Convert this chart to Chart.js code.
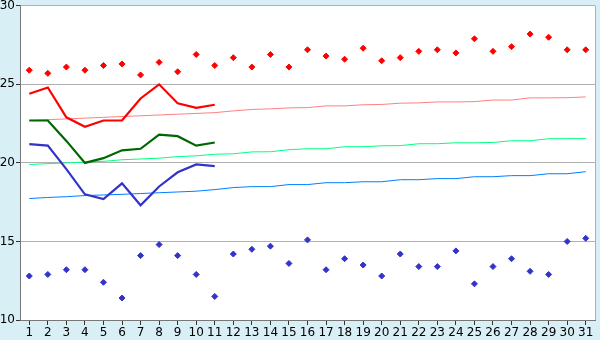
<!DOCTYPE html>
<html>
<head>
<meta charset="utf-8">
<style>
  html, body { margin: 0; padding: 0; background: #d9eff6; }
  #wrap { width: 600px; height: 340px; }
</style>
<script src="https://cdn.jsdelivr.net/npm/chart.js@4.4.1/dist/chart.umd.min.js"></script>
</head>
<body>
<div id="wrap"><canvas id="myChart" width="600" height="340"></canvas></div>
<script>
// days of the month
const days = ['1','2','3','4','5','6','7','8','9','10','11','12','13','14','15','16',
              '17','18','19','20','21','22','23','24','25','26','27','28','29','30','31'];

// daily max / min (points)
const maxPoints = [25.9, 25.7, 26.1, 25.9, 26.2, 26.3, 25.6, 26.4, 25.8, 26.9, 26.2,
                   26.7, 26.1, 26.9, 26.1, 27.2, 26.8, 26.6, 27.3, 26.5, 26.7, 27.1,
                   27.2, 27.0, 27.9, 27.1, 27.4, 28.2, 28.0, 27.2, 27.2];
const minPoints = [12.8, 12.9, 13.2, 13.2, 12.4, 11.4, 14.1, 14.8, 14.1, 12.9, 11.5,
                   14.2, 14.5, 14.7, 13.6, 15.1, 13.2, 13.9, 13.5, 12.8, 14.2, 13.4,
                   13.4, 14.4, 12.3, 13.4, 13.9, 13.1, 12.9, 15.0, 15.2];

// observed lines (first 11 days)
const maxLine  = [24.4, 24.8, 22.9, 22.3, 22.7, 22.7, 24.1, 25.0, 23.8, 23.5, 23.7];
const meanLine = [22.7, 22.7, 21.4, 20.0, 20.3, 20.8, 20.9, 21.8, 21.7, 21.1, 21.3];
const minLine  = [21.2, 21.1, 19.6, 18.0, 17.7, 18.7, 17.3, 18.5, 19.4, 19.9, 19.8];

// normal values
const maxNormal  = [22.7, 22.75, 22.8, 22.85, 22.9, 22.95, 23.0, 23.05, 23.1, 23.15, 23.2,
                    23.31, 23.4, 23.44, 23.5, 23.52, 23.63, 23.63, 23.7, 23.72, 23.8, 23.82,
                    23.88, 23.88, 23.9, 24.0, 24.0, 24.14, 24.14, 24.15, 24.2];
const meanNormal = [19.9, 19.95, 20.0, 20.05, 20.1, 20.2, 20.25, 20.3, 20.4, 20.45, 20.55,
                    20.58, 20.7, 20.71, 20.84, 20.9, 20.9, 21.03, 21.03, 21.09, 21.1, 21.22,
                    21.22, 21.28, 21.28, 21.3, 21.41, 21.41, 21.54, 21.54, 21.55];
const minNormal  = [17.73, 17.8, 17.85, 17.92, 17.96, 18.0, 18.05, 18.1, 18.15, 18.2, 18.3,
                    18.43, 18.49, 18.49, 18.62, 18.62, 18.74, 18.74, 18.8, 18.8, 18.93, 18.93,
                    19.0, 19.0, 19.12, 19.12, 19.19, 19.19, 19.31, 19.31, 19.44];

const yTicks = [10, 15, 20, 25, 30];

// background + frame
const framePlugin = {
    id: 'frame',
    beforeDraw(chart) {
        const c = chart.ctx, a = chart.chartArea;
        c.save();
        c.fillStyle = '#d9eff6';
        c.fillRect(0, 0, chart.width, chart.height);
        c.fillStyle = '#ffffff';
        c.fillRect(a.left, a.top, a.right - a.left, a.bottom - a.top);
        c.restore();
    },
    afterDraw(chart) {
        const c = chart.ctx, a = chart.chartArea;
        c.save();
        c.strokeStyle = '#b0b0b0';
        c.lineWidth = 1;
        c.beginPath();
        c.moveTo(a.right + 0.5, a.top);
        c.lineTo(a.right + 0.5, a.bottom);
        c.stroke();
        c.restore();
    }
};

function lineSet(data, color, width) {
    return {
        data: data,
        borderColor: color,
        backgroundColor: color,
        borderWidth: width,
        pointRadius: 0,
        tension: 0,
        fill: false
    };
}

function pointSet(data, color) {
    return {
        data: data,
        showLine: false,
        borderColor: color,
        backgroundColor: color,
        pointStyle: 'rectRot',
        pointRadius: 3,
        pointBorderWidth: 1
    };
}

const ctx = document.getElementById('myChart').getContext('2d');
new Chart(ctx, {
    type: 'line',
    data: {
        labels: days,
        datasets: [
            pointSet(maxPoints, '#ff0000'),
            pointSet(minPoints, '#3333cc'),
            lineSet(maxLine, '#ff0000', 2.2),
            lineSet(meanLine, '#006600', 2.2),
            lineSet(minLine, '#3333cc', 2.2),
            lineSet(maxNormal, '#ff8080', 1),
            lineSet(meanNormal, '#00ff80', 1),
            lineSet(minNormal, '#0080ff', 1)
        ]
    },
    options: {
        responsive: false,
        animation: false,
        layout: { padding: { top: 5, right: 5, left: 0, bottom: 0 } },
        plugins: { legend: { display: false }, tooltip: { enabled: false } },
        scales: {
            x: {
                offset: true,
                grid: { display: true, drawOnChartArea: false, offset: false, tickLength: 5, tickColor: '#333333' },
                border: { color: '#777777' },
                ticks: { color: '#000000', font: { family: 'DejaVu Sans', size: 12 }, padding: 1, maxRotation: 0, autoSkip: false },
                afterFit(scale) { scale.height = 20; }
            },
            y: {
                min: 10,
                max: 30,
                afterBuildTicks(scale) { scale.ticks = yTicks.map(v => ({ value: v })); },
                grid: {
                    color: ctx => ctx.tick && ctx.tick.value === 10 ? 'rgba(0,0,0,0)' : '#b0b0b0',
                    tickLength: 4,
                    tickColor: '#333333'
                },
                border: { color: '#777777' },
                ticks: { color: '#000000', font: { family: 'DejaVu Sans', size: 12, lineHeight: 0.8 }, padding: 1 },
                afterFit(scale) { scale.width = 20; }
            }
        }
    },
    plugins: [framePlugin]
});
</script>
</body>
</html>
